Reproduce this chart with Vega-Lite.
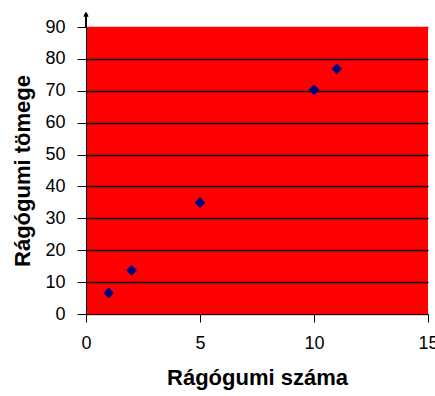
{
  "$schema": "https://vega.github.io/schema/vega-lite/v6.json",
  "autosize": "none",
  "width": 342,
  "height": 287,
  "padding": {"left": 86, "top": 27, "right": 7, "bottom": 82},
  "background": "white",
  "config": {
    "view": {"fill": "#ff0000", "stroke": null},
    "font": "Liberation Sans",
    "axisX": {
      "grid": false,
      "domainColor": "black",
      "tickColor": "black",
      "tickSize": 8,
      "labelFontSize": 18,
      "labelColor": "black",
      "labelPadding": 12,
      "labelFlush": false,
      "labelOverlap": false,
      "titleFontSize": 22,
      "titleFontWeight": "bold",
      "titleColor": "black",
      "titlePadding": 15
    },
    "axisY": {
      "grid": true,
      "gridOpacity": 1,
      "gridWidth": 1.5,
      "domainColor": "black",
      "tickColor": "black",
      "tickSize": 9,
      "labelFontSize": 18,
      "labelColor": "black",
      "labelPadding": 12,
      "labelFlush": false,
      "labelOverlap": false,
      "titleFontSize": 22,
      "titleFontWeight": "bold",
      "titleColor": "black",
      "titlePadding": 10
    }
  },
  "data": {
    "values": [
      {"szama": 1, "tomege": 6.6},
      {"szama": 2, "tomege": 13.7},
      {"szama": 5, "tomege": 34.9},
      {"szama": 10, "tomege": 70.3},
      {"szama": 11, "tomege": 76.9}
    ]
  },
  "layer": [
    {
      "mark": {"type": "point", "shape": "diamond", "filled": true, "color": "#000080", "size": 115, "opacity": 1},
      "encoding": {
        "x": {
          "field": "szama",
          "type": "quantitative",
          "scale": {"domain": [0, 15], "nice": false, "zero": true},
          "axis": {"title": "Rágógumi száma", "values": [0, 5, 10, 15]}
        },
        "y": {
          "field": "tomege",
          "type": "quantitative",
          "scale": {"domain": [0, 90], "nice": false},
          "axis": {
            "title": "Rágógumi tömege",
            "values": [0, 10, 20, 30, 40, 50, 60, 70, 80, 90],
            "gridColor": {"condition": {"test": "datum.value == 90 || datum.value == 0", "value": "#ff0000"}, "value": "black"}
          }
        }
      }
    },
    {
      "mark": {"type": "rule", "color": "black", "strokeWidth": 1, "clip": false},
      "encoding": {
        "x": {"datum": 0, "type": "quantitative",
          "scale": {"domain": [0, 15], "nice": false, "zero": true},
          "axis": {"title": "Rágógumi száma", "values": [0, 5, 10, 15]}},
        "y": {"datum": 90, "type": "quantitative",
          "scale": {"domain": [0, 90], "nice": false},
          "axis": {
            "title": "Rágógumi tömege",
            "values": [0, 10, 20, 30, 40, 50, 60, 70, 80, 90],
            "gridColor": {"condition": {"test": "datum.value == 90 || datum.value == 0", "value": "#ff0000"}, "value": "black"}
          }},
        "y2": {"datum": 94}
      }
    },
    {
      "mark": {"type": "point", "shape": "triangle-up", "filled": true, "color": "black", "size": 22, "clip": false, "opacity": 1},
      "encoding": {
        "x": {"datum": 0, "type": "quantitative",
          "scale": {"domain": [0, 15], "nice": false, "zero": true},
          "axis": {"title": "Rágógumi száma", "values": [0, 5, 10, 15]}},
        "y": {"datum": 94, "type": "quantitative",
          "scale": {"domain": [0, 90], "nice": false},
          "axis": {
            "title": "Rágógumi tömege",
            "values": [0, 10, 20, 30, 40, 50, 60, 70, 80, 90],
            "gridColor": {"condition": {"test": "datum.value == 90 || datum.value == 0", "value": "#ff0000"}, "value": "black"}
          }}
      }
    }
  ]
}
